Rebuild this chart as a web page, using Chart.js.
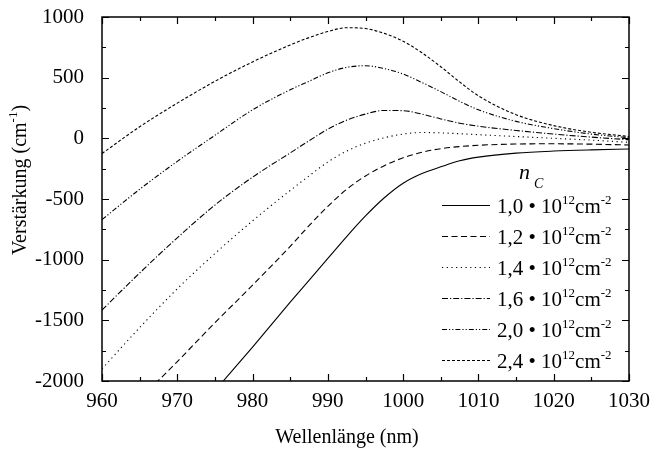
<!DOCTYPE html>
<html><head><meta charset="utf-8">
<script src="https://cdn.jsdelivr.net/npm/chart.js@4"></script>
<style>html,body{margin:0;padding:0;background:#fff}</style>
</head><body>
<canvas id="c" width="653" height="449"></canvas>
<script>
// ---- data ----
const wavelengths = [960,965,970,975,980,985,987.5,990,992.5,995,997.5,1000,1002.5,1005,1007.5,1010,1015,1020,1025,1030];
const gain_n10 = [-3150,-2790,-2440,-2080,-1720,-1350,-1170,-990,-810,-640,-490,-370,-290,-235,-185,-155,-122,-105,-95,-88];
const gain_n12 = [-2470,-2150,-1840,-1520,-1210,-890,-720,-560,-420,-310,-225,-160,-115,-85,-68,-57,-47,-45,-48,-55];
const gain_n14 = [-1900,-1560,-1240,-950,-680,-430,-310,-195,-105,-40,5,35,48,45,38,30,15,0,-15,-33];
const gain_n16 = [-1415,-1110,-820,-550,-320,-120,-20,75,150,200,230,228,200,160,125,100,65,35,10,-12];
const gain_n20 = [-670,-420,-190,25,235,400,470,540,585,598,575,530,460,385,305,235,140,80,35,5];
const gain_n24 = [-125,95,290,470,630,770,830,880,912,905,865,800,705,590,465,350,195,105,50,15];
const seriesLabels = ['1,0','1,2','1,4','1,6','2,0','2,4'];
const xTickLabels = [960,970,980,990,1000,1010,1020,1030];
const yTickLabels = [-2000,-1500,-1000,-500,0,500,1000];

// ---- styles ----
const FONT = '"Liberation Serif", "Times New Roman", serif';
const dashes = [[], [6,3.5], [1.2,3.5], [6,2,1.2,2], [5,2,1.2,2,1.2,2], [3,2]];
const allSeries = [gain_n10, gain_n12, gain_n14, gain_n16, gain_n20, gain_n24];

const framePlugin = {
  id: 'frame',
  afterDraw(chart) {
    const {ctx, chartArea: a, scales: {x, y}} = chart;
    ctx.save();
    ctx.strokeStyle = '#000';
    ctx.lineWidth = 1.5;
    ctx.strokeRect(a.left, a.top, a.right - a.left, a.bottom - a.top);
    ctx.lineWidth = 1.2;
    const xs = [];
    xTickLabels.forEach((v, i) => {
      xs.push([v, 7]);
      if (i < xTickLabels.length - 1) xs.push([(v + xTickLabels[i + 1]) / 2, 4]);
    });
    xs.forEach(([v, L]) => {
      const px = Math.round(x.getPixelForValue(v)) + 0.5;
      ctx.beginPath();
      ctx.moveTo(px, a.bottom); ctx.lineTo(px, a.bottom - L);
      ctx.moveTo(px, a.top); ctx.lineTo(px, a.top + L);
      ctx.stroke();
    });
    const ys = [];
    yTickLabels.forEach((v, i) => {
      ys.push([v, 7]);
      if (i < yTickLabels.length - 1) ys.push([(v + yTickLabels[i + 1]) / 2, 4]);
    });
    ys.forEach(([v, L]) => {
      const py = Math.round(y.getPixelForValue(v)) + 0.5;
      ctx.beginPath();
      ctx.moveTo(a.left, py); ctx.lineTo(a.left + L, py);
      ctx.moveTo(a.right, py); ctx.lineTo(a.right - L, py);
      ctx.stroke();
    });

    ctx.fillStyle = '#000';
    ctx.font = '20px ' + FONT;
    ctx.textAlign = 'center';
    ctx.textBaseline = 'alphabetic';
    ctx.fillText('Wellenlänge (nm)', 347, 443);

    ctx.save();
    ctx.translate(26, 180);
    ctx.rotate(-Math.PI / 2);
    ctx.textAlign = 'left';
    const p1 = 'Verstärkung (cm', sup = '-1', p2 = ')';
    ctx.font = '20px ' + FONT;
    const w1 = ctx.measureText(p1).width, w3 = ctx.measureText(p2).width;
    ctx.font = '13px ' + FONT;
    const w2 = ctx.measureText(sup).width;
    let sx = -(w1 + w2 + w3) / 2;
    ctx.font = '20px ' + FONT; ctx.fillText(p1, sx, 0); sx += w1;
    ctx.font = '13px ' + FONT; ctx.fillText(sup, sx, -9); sx += w2;
    ctx.font = '20px ' + FONT; ctx.fillText(p2, sx, 0);
    ctx.restore();

    ctx.textAlign = 'left';
    ctx.font = 'italic 22px ' + FONT;
    ctx.fillText('n', 519, 179);
    ctx.font = 'italic 14px ' + FONT;
    ctx.fillText('C', 534, 188);
    const rowY = [205, 236, 267, 298, 329, 360];
    chart.data.datasets.forEach((ds, i) => {
      const ly = rowY[i];
      ctx.save();
      ctx.lineWidth = 1.1;
      ctx.setLineDash(ds.borderDash || []);
      ctx.beginPath();
      ctx.moveTo(442, ly + 0.5); ctx.lineTo(490, ly + 0.5);
      ctx.stroke();
      ctx.restore();
      let tx = 497, by = ly + 7.5;
      const parts = [
        [seriesLabels[i] + ' \u2022 10', 21, 0],
        ['12', 13, -9],
        ['cm', 21, 0],
        ['-2', 13, -9]
      ];
      parts.forEach(([t, fs, dy]) => {
        ctx.font = fs + 'px ' + FONT;
        ctx.fillText(t, tx, by + dy);
        tx += ctx.measureText(t).width;
      });
    });
    ctx.restore();
  }
};

new Chart(document.getElementById('c'), {
  type: 'line',
  data: {
    datasets: allSeries.map((vals, i) => ({
      label: seriesLabels[i],
      data: wavelengths.map((w, j) => ({x: w, y: vals[j]})),
      borderColor: '#000',
      borderWidth: 1.1,
      borderDash: dashes[i],
      pointRadius: 0,
      fill: false,
      cubicInterpolationMode: 'monotone'
    }))
  },
  options: {
    responsive: false,
    animation: false,
    devicePixelRatio: 1,
    layout: {padding: {left: 0, right: 24, top: 17, bottom: 0}},
    plugins: {legend: {display: false}, tooltip: {enabled: false}},
    scales: {
      x: {
        type: 'linear', min: 960, max: 1030,
        afterBuildTicks: s => { s.ticks = xTickLabels.map(v => ({value: v})); },
        grid: {display: false}, border: {display: false},
        ticks: {color: '#000', font: {family: FONT, size: 21}, padding: 0, maxRotation: 0, autoSkip: false, callback: v => String(v)},
        afterFit: s => { s.height = 68; s.paddingLeft = 0; s.paddingRight = 0; s.paddingTop = 0; s.paddingBottom = 0; }
      },
      y: {
        type: 'linear', min: -2000, max: 1000,
        afterBuildTicks: s => { s.ticks = yTickLabels.map(v => ({value: v})); },
        grid: {display: false}, border: {display: false},
        ticks: {color: '#000', font: {family: FONT, size: 21}, padding: 10, autoSkip: false, callback: v => String(v)},
        afterFit: s => { s.width = 102; s.paddingLeft = 0; s.paddingRight = 0; s.paddingTop = 0; s.paddingBottom = 0; }
      }
    }
  },
  plugins: [framePlugin]
});
</script>
</body></html>
